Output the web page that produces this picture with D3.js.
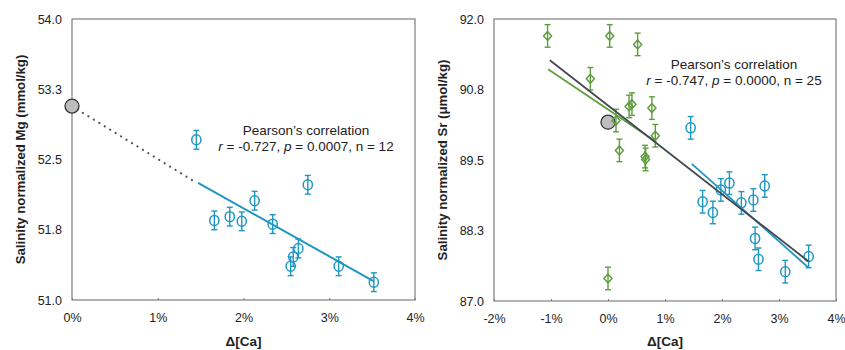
<!DOCTYPE html>
<html>
<head>
<meta charset="utf-8">
<script src="https://cdn.jsdelivr.net/npm/d3@7"></script>
<style>
  body { margin: 0; background: #fff; }
  svg text { font-family: "Liberation Sans", Arial, Helvetica, sans-serif; fill: #222; }
</style>
</head>
<body>
<div id="chart"></div>
<script>
// ---- data ----
// left panel: Mg vs Δ[Ca] (%)
const mgX = [1.45, 1.66, 1.84, 1.98, 2.13, 2.34, 2.55, 2.58, 2.64, 2.75, 3.11, 3.52];
const mgY = [52.71, 51.85, 51.89, 51.84, 52.06, 51.81, 51.36, 51.46, 51.55, 52.23, 51.36, 51.19];
const mgErr = 0.1;
const mgRef = [0, 53.07];
const mgFit = [[1.47, 52.25], [3.52, 51.20]];
const mgExtrap = [[0, 53.07], [1.40, 52.28]];
const mgTicksY = [51.0, 51.75, 52.5, 53.25, 54.0];
const mgTickLabelsY = ["51.0", "51.8", "52.5", "53.3", "54.0"];
const mgTicksX = [0, 1, 2, 3, 4];

// right panel: Sr vs Δ[Ca] (%)
const srBlueX = [1.45, 1.66, 1.84, 1.98, 2.13, 2.34, 2.55, 2.75, 2.58, 2.64, 3.11, 3.52];
const srBlueY = [90.07, 88.76, 88.57, 88.97, 89.09, 88.74, 88.79, 89.04, 88.11, 87.74, 87.52, 87.79];
const srGreenX = [-1.06, 0.03, 0.52, -0.31, 0.37, 0.42, 0.77, 0.14, 0.83, 0.20, 0.65, 0.66, 0.0];
const srGreenY = [91.70, 91.70, 91.55, 90.94, 90.45, 90.49, 90.42, 90.20, 89.93, 89.67, 89.56, 89.51, 87.40];
const srErr = 0.2;
const srRef = [0, 90.17];
const srFitAll = [[-1.02, 91.27], [3.52, 87.70]];
const srFitGreen = [[-1.05, 91.11], [0.85, 89.82]];
const srFitBlue = [[1.47, 89.43], [3.52, 87.59]];
const srTicksY = [87.0, 88.25, 89.5, 90.75, 92.0];
const srTickLabelsY = ["87.0", "88.3", "89.5", "90.8", "92.0"];
const srTicksX = [-2, -1, 0, 1, 2, 3, 4];

const blue = "#1f97c2";
const green = "#5f9d3c";
const dark = "#43474f";

const width = 845, height = 350;
const svg = d3.select("#chart").append("svg")
  .attr("width", width).attr("height", height);

function panel(opts) {
  const x = d3.scaleLinear().domain(opts.xDomain).range([opts.left, opts.right]);
  const y = d3.scaleLinear().domain(opts.yDomain).range([opts.bottom, opts.top]);
  const g = svg.append("g");

  // frame
  g.append("rect")
    .attr("x", opts.left).attr("y", opts.top)
    .attr("width", opts.right - opts.left).attr("height", opts.bottom - opts.top)
    .attr("fill", "none").attr("stroke", "#7d7d7d").attr("stroke-width", 1.2);

  // x axis
  const xAxis = g.append("g")
    .attr("transform", `translate(0,${opts.bottom})`)
    .call(d3.axisBottom(x).tickValues(opts.xTicks).tickSize(-2).tickSizeOuter(0)
      .tickFormat(d => d + "%"));
  xAxis.select(".domain").remove();
  xAxis.selectAll("line").attr("stroke", "#7d7d7d");
  xAxis.selectAll("text").attr("font-size", 12.5).attr("dy", "1.5em").attr("fill", "#222");

  // y axis
  const yAxis = g.append("g")
    .attr("transform", `translate(${opts.left},0)`)
    .call(d3.axisLeft(y).tickValues(opts.yTicks).tickSize(0).tickPadding(10)
      .tickFormat((d, i) => opts.yLabels[i]));
  yAxis.select(".domain").remove();
  yAxis.selectAll("text").attr("font-size", 12.5).attr("fill", "#222");

  // axis titles
  g.append("text")
    .attr("x", (opts.left + opts.right) / 2).attr("y", 346)
    .attr("text-anchor", "middle").attr("font-size", 13.5).attr("font-weight", "bold")
    .text("Δ[Ca]");
  g.append("text")
    .attr("transform", `translate(${opts.left - 47},${(opts.top + opts.bottom) / 2}) rotate(-90)`)
    .attr("text-anchor", "middle").attr("font-size", 13.2).attr("font-weight", "bold")
    .text(opts.yTitle);

  // annotation
  const ann = g.append("text").attr("text-anchor", "middle").attr("font-size", 13.5)
    .attr("x", opts.annX);
  ann.append("tspan").attr("x", opts.annX).attr("y", opts.annY).text("Pearson’s correlation");
  const l2 = ann.append("tspan").attr("x", opts.annX).attr("y", opts.annY + 16);
  l2.append("tspan").attr("font-style", "italic").text("r");
  l2.append("tspan").text(` = ${opts.r}, `);
  l2.append("tspan").attr("font-style", "italic").text("p");
  l2.append("tspan").text(` = ${opts.p}, n = ${opts.n}`);

  return { g, x, y };
}

function errorBars(g, x, y, xs, ys, err, color) {
  const d = xs.map((v, i) => ({ x: v, y: ys[i] }));
  const eb = g.append("g").attr("stroke", color).attr("stroke-width", 1.4).attr("fill", "none");
  eb.selectAll(".v").data(d).join("line")
    .attr("x1", p => x(p.x)).attr("x2", p => x(p.x))
    .attr("y1", p => y(p.y + err)).attr("y2", p => y(p.y - err));
  eb.selectAll(".t").data(d).join("line")
    .attr("x1", p => x(p.x) - 3).attr("x2", p => x(p.x) + 3)
    .attr("y1", p => y(p.y + err)).attr("y2", p => y(p.y + err));
  eb.selectAll(".b").data(d).join("line")
    .attr("x1", p => x(p.x) - 3).attr("x2", p => x(p.x) + 3)
    .attr("y1", p => y(p.y - err)).attr("y2", p => y(p.y - err));
  return d;
}

function circles(g, x, y, xs, ys, err, color) {
  const d = errorBars(g, x, y, xs, ys, err, color);
  g.append("g").selectAll("ellipse").data(d).join("ellipse")
    .attr("cx", p => x(p.x)).attr("cy", p => y(p.y))
    .attr("rx", 4.6).attr("ry", 5)
    .attr("fill", "none").attr("stroke", color).attr("stroke-width", 1.5);
}

function diamonds(g, x, y, xs, ys, err, color) {
  const d = errorBars(g, x, y, xs, ys, err, color);
  g.append("g").selectAll("path").data(d).join("path")
    .attr("d", p => {
      const cx = x(p.x), cy = y(p.y);
      return `M${cx},${cy - 4.5}L${cx + 4},${cy}L${cx},${cy + 4.5}L${cx - 4},${cy}Z`;
    })
    .attr("fill", "none").attr("stroke", color).attr("stroke-width", 1.5);
}

function fitLine(g, x, y, pts, color, width, dash) {
  g.append("path")
    .attr("d", d3.line().x(p => x(p[0])).y(p => y(p[1]))(pts))
    .attr("fill", "none").attr("stroke", color).attr("stroke-width", width)
    .attr("stroke-dasharray", dash || null)
    .attr("stroke-linecap", dash ? "round" : "butt");
}

function refPoint(g, x, y, pt) {
  g.append("circle")
    .attr("cx", x(pt[0])).attr("cy", y(pt[1])).attr("r", 7)
    .attr("fill", "#bdbdbf").attr("stroke", "#333").attr("stroke-width", 1.3);
}

// ---- left panel ----
const L = panel({
  left: 72, right: 415, top: 19, bottom: 300,
  xDomain: [0, 4], yDomain: [51, 54],
  xTicks: mgTicksX, yTicks: mgTicksY, yLabels: mgTickLabelsY,
  yTitle: "Salinity normalized Mg (mmol/kg)",
  annX: 306, annY: 135, r: "-0.727", p: "0.0007", n: 12
});
fitLine(L.g, L.x, L.y, mgExtrap, "#555", 2.2, "0.1,6.3");
fitLine(L.g, L.x, L.y, mgFit, blue, 2);
circles(L.g, L.x, L.y, mgX, mgY, mgErr, blue);
refPoint(L.g, L.x, L.y, mgRef);

// ---- right panel ----
const R = panel({
  left: 494, right: 836, top: 19, bottom: 301,
  xDomain: [-2, 4], yDomain: [87, 92],
  xTicks: srTicksX, yTicks: srTicksY, yLabels: srTickLabelsY,
  yTitle: "Salinity normalized Sr (μmol/kg)",
  annX: 734, annY: 69, r: "-0.747", p: "0.0000", n: 25
});
refPoint(R.g, R.x, R.y, srRef);
diamonds(R.g, R.x, R.y, srGreenX, srGreenY, srErr, green);
circles(R.g, R.x, R.y, srBlueX, srBlueY, srErr, blue);
fitLine(R.g, R.x, R.y, srFitGreen, green, 1.8);
fitLine(R.g, R.x, R.y, srFitBlue, blue, 1.8);
fitLine(R.g, R.x, R.y, srFitAll, dark, 1.8);
</script>
</body>
</html>
